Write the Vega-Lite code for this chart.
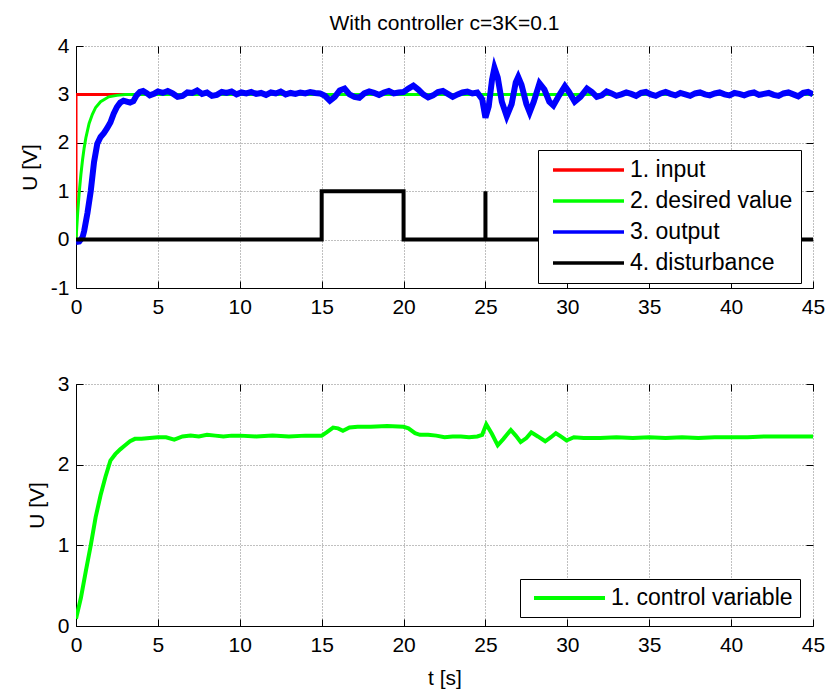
{
  "$schema": "https://vega.github.io/schema/vega-lite/v6.json",
  "padding": {"left": 19, "top": 13, "right": 5, "bottom": 2},
  "background": "white",
  "datasets": {
    "top": [
      {"s": "1. input", "t": 0, "v": 0},
      {"s": "1. input", "t": 0.001, "v": 3},
      {"s": "1. input", "t": 45, "v": 3},
      {"s": "2. desired value", "t": 0, "v": 0},
      {"s": "2. desired value", "t": 0.1, "v": 0.54},
      {"s": "2. desired value", "t": 0.2, "v": 0.99},
      {"s": "2. desired value", "t": 0.3, "v": 1.35},
      {"s": "2. desired value", "t": 0.4, "v": 1.65},
      {"s": "2. desired value", "t": 0.5, "v": 1.9},
      {"s": "2. desired value", "t": 0.6, "v": 2.1},
      {"s": "2. desired value", "t": 0.8, "v": 2.4},
      {"s": "2. desired value", "t": 1.0, "v": 2.59},
      {"s": "2. desired value", "t": 1.2, "v": 2.73},
      {"s": "2. desired value", "t": 1.5, "v": 2.85},
      {"s": "2. desired value", "t": 2.0, "v": 2.95},
      {"s": "2. desired value", "t": 2.5, "v": 2.98},
      {"s": "2. desired value", "t": 3.0, "v": 3.0},
      {"s": "2. desired value", "t": 45, "v": 3.0},
      {"s": "3. output", "t": 0, "v": -0.05},
      {"s": "3. output", "t": 0.2, "v": -0.04},
      {"s": "3. output", "t": 0.4, "v": 0.05},
      {"s": "3. output", "t": 0.5, "v": 0.18},
      {"s": "3. output", "t": 0.7, "v": 0.55},
      {"s": "3. output", "t": 0.9, "v": 1.0},
      {"s": "3. output", "t": 1.1, "v": 1.6},
      {"s": "3. output", "t": 1.3, "v": 1.98},
      {"s": "3. output", "t": 1.5, "v": 2.12},
      {"s": "3. output", "t": 1.7, "v": 2.2},
      {"s": "3. output", "t": 1.9, "v": 2.3},
      {"s": "3. output", "t": 2.1, "v": 2.42},
      {"s": "3. output", "t": 2.3, "v": 2.6},
      {"s": "3. output", "t": 2.5, "v": 2.74},
      {"s": "3. output", "t": 2.7, "v": 2.83},
      {"s": "3. output", "t": 2.9, "v": 2.87},
      {"s": "3. output", "t": 3.1, "v": 2.85},
      {"s": "3. output", "t": 3.3, "v": 2.83},
      {"s": "3. output", "t": 3.5, "v": 2.86},
      {"s": "3. output", "t": 3.7, "v": 2.98},
      {"s": "3. output", "t": 3.9, "v": 3.05},
      {"s": "3. output", "t": 4.1, "v": 3.07},
      {"s": "3. output", "t": 4.3, "v": 3.03},
      {"s": "3. output", "t": 4.5, "v": 2.98},
      {"s": "3. output", "t": 4.8, "v": 3.02},
      {"s": "3. output", "t": 5.0, "v": 3.06},
      {"s": "3. output", "t": 5.3, "v": 3.03},
      {"s": "3. output", "t": 5.6, "v": 3.07},
      {"s": "3. output", "t": 5.9, "v": 3.02},
      {"s": "3. output", "t": 6.2, "v": 2.95},
      {"s": "3. output", "t": 6.5, "v": 2.97},
      {"s": "3. output", "t": 6.8, "v": 3.04},
      {"s": "3. output", "t": 7.1, "v": 3.03},
      {"s": "3. output", "t": 7.4, "v": 3.08},
      {"s": "3. output", "t": 7.7, "v": 3.01},
      {"s": "3. output", "t": 8.0, "v": 3.04},
      {"s": "3. output", "t": 8.3, "v": 2.97},
      {"s": "3. output", "t": 8.6, "v": 2.99},
      {"s": "3. output", "t": 8.9, "v": 3.05},
      {"s": "3. output", "t": 9.2, "v": 3.03},
      {"s": "3. output", "t": 9.5, "v": 3.06},
      {"s": "3. output", "t": 9.8, "v": 3.0},
      {"s": "3. output", "t": 10.1, "v": 3.04},
      {"s": "3. output", "t": 10.4, "v": 3.02},
      {"s": "3. output", "t": 10.7, "v": 3.05},
      {"s": "3. output", "t": 11.0, "v": 3.01},
      {"s": "3. output", "t": 11.3, "v": 3.03},
      {"s": "3. output", "t": 11.6, "v": 2.99},
      {"s": "3. output", "t": 11.9, "v": 3.04},
      {"s": "3. output", "t": 12.2, "v": 3.02},
      {"s": "3. output", "t": 12.5, "v": 3.06},
      {"s": "3. output", "t": 12.8, "v": 3.0},
      {"s": "3. output", "t": 13.1, "v": 3.03},
      {"s": "3. output", "t": 13.4, "v": 3.01},
      {"s": "3. output", "t": 13.7, "v": 3.04},
      {"s": "3. output", "t": 14.0, "v": 3.02},
      {"s": "3. output", "t": 14.3, "v": 3.05},
      {"s": "3. output", "t": 14.6, "v": 3.03},
      {"s": "3. output", "t": 14.9, "v": 3.02},
      {"s": "3. output", "t": 15.2, "v": 2.97},
      {"s": "3. output", "t": 15.5, "v": 2.87},
      {"s": "3. output", "t": 15.8, "v": 2.95},
      {"s": "3. output", "t": 16.1, "v": 3.08},
      {"s": "3. output", "t": 16.4, "v": 3.12},
      {"s": "3. output", "t": 16.7, "v": 3.0},
      {"s": "3. output", "t": 17.0, "v": 2.95},
      {"s": "3. output", "t": 17.3, "v": 2.93},
      {"s": "3. output", "t": 17.6, "v": 3.02},
      {"s": "3. output", "t": 17.9, "v": 3.06},
      {"s": "3. output", "t": 18.2, "v": 3.03},
      {"s": "3. output", "t": 18.5, "v": 2.99},
      {"s": "3. output", "t": 18.8, "v": 3.04},
      {"s": "3. output", "t": 19.1, "v": 3.07},
      {"s": "3. output", "t": 19.4, "v": 3.02},
      {"s": "3. output", "t": 19.7, "v": 3.04},
      {"s": "3. output", "t": 20.0, "v": 3.05},
      {"s": "3. output", "t": 20.3, "v": 3.12},
      {"s": "3. output", "t": 20.6, "v": 3.18},
      {"s": "3. output", "t": 20.9, "v": 3.1},
      {"s": "3. output", "t": 21.2, "v": 3.0},
      {"s": "3. output", "t": 21.5, "v": 2.94},
      {"s": "3. output", "t": 21.8, "v": 2.98},
      {"s": "3. output", "t": 22.1, "v": 3.05},
      {"s": "3. output", "t": 22.4, "v": 3.07},
      {"s": "3. output", "t": 22.7, "v": 3.01},
      {"s": "3. output", "t": 23.0, "v": 2.95},
      {"s": "3. output", "t": 23.3, "v": 3.0},
      {"s": "3. output", "t": 23.6, "v": 3.04},
      {"s": "3. output", "t": 23.9, "v": 3.06},
      {"s": "3. output", "t": 24.2, "v": 3.02},
      {"s": "3. output", "t": 24.5, "v": 3.04},
      {"s": "3. output", "t": 24.8, "v": 2.9},
      {"s": "3. output", "t": 25.0, "v": 2.52},
      {"s": "3. output", "t": 25.2, "v": 2.75},
      {"s": "3. output", "t": 25.4, "v": 3.3},
      {"s": "3. output", "t": 25.55, "v": 3.55},
      {"s": "3. output", "t": 25.75, "v": 3.35},
      {"s": "3. output", "t": 26.0, "v": 2.85},
      {"s": "3. output", "t": 26.3, "v": 2.55},
      {"s": "3. output", "t": 26.6, "v": 2.8},
      {"s": "3. output", "t": 26.85, "v": 3.25},
      {"s": "3. output", "t": 27.0, "v": 3.36},
      {"s": "3. output", "t": 27.2, "v": 3.2},
      {"s": "3. output", "t": 27.5, "v": 2.8},
      {"s": "3. output", "t": 27.7, "v": 2.63},
      {"s": "3. output", "t": 27.95, "v": 2.85},
      {"s": "3. output", "t": 28.3, "v": 3.23},
      {"s": "3. output", "t": 28.6, "v": 3.1},
      {"s": "3. output", "t": 28.9, "v": 2.85},
      {"s": "3. output", "t": 29.15, "v": 2.77},
      {"s": "3. output", "t": 29.5, "v": 2.98},
      {"s": "3. output", "t": 29.85, "v": 3.17},
      {"s": "3. output", "t": 30.1, "v": 3.05},
      {"s": "3. output", "t": 30.45, "v": 2.85},
      {"s": "3. output", "t": 30.8, "v": 2.95},
      {"s": "3. output", "t": 31.2, "v": 3.12},
      {"s": "3. output", "t": 31.5, "v": 3.05},
      {"s": "3. output", "t": 31.8, "v": 2.95},
      {"s": "3. output", "t": 32.1, "v": 2.98},
      {"s": "3. output", "t": 32.4, "v": 3.06},
      {"s": "3. output", "t": 32.7, "v": 3.02},
      {"s": "3. output", "t": 33.0, "v": 2.97},
      {"s": "3. output", "t": 33.3, "v": 3.0},
      {"s": "3. output", "t": 33.6, "v": 3.04},
      {"s": "3. output", "t": 33.9, "v": 3.01},
      {"s": "3. output", "t": 34.2, "v": 2.97},
      {"s": "3. output", "t": 34.5, "v": 3.03},
      {"s": "3. output", "t": 34.8, "v": 3.05},
      {"s": "3. output", "t": 35.1, "v": 3.0},
      {"s": "3. output", "t": 35.4, "v": 2.97},
      {"s": "3. output", "t": 35.7, "v": 3.02},
      {"s": "3. output", "t": 36.0, "v": 3.05},
      {"s": "3. output", "t": 36.3, "v": 3.01},
      {"s": "3. output", "t": 36.6, "v": 2.98},
      {"s": "3. output", "t": 36.9, "v": 3.03},
      {"s": "3. output", "t": 37.2, "v": 3.0},
      {"s": "3. output", "t": 37.5, "v": 2.97},
      {"s": "3. output", "t": 37.8, "v": 3.02},
      {"s": "3. output", "t": 38.1, "v": 3.04},
      {"s": "3. output", "t": 38.4, "v": 3.0},
      {"s": "3. output", "t": 38.7, "v": 2.98},
      {"s": "3. output", "t": 39.0, "v": 3.02},
      {"s": "3. output", "t": 39.3, "v": 3.04},
      {"s": "3. output", "t": 39.6, "v": 3.0},
      {"s": "3. output", "t": 39.9, "v": 2.98},
      {"s": "3. output", "t": 40.2, "v": 3.03},
      {"s": "3. output", "t": 40.5, "v": 3.01},
      {"s": "3. output", "t": 40.8, "v": 2.98},
      {"s": "3. output", "t": 41.1, "v": 3.02},
      {"s": "3. output", "t": 41.4, "v": 3.04},
      {"s": "3. output", "t": 41.7, "v": 2.99},
      {"s": "3. output", "t": 42.0, "v": 3.01},
      {"s": "3. output", "t": 42.3, "v": 3.03},
      {"s": "3. output", "t": 42.6, "v": 2.99},
      {"s": "3. output", "t": 42.9, "v": 2.97},
      {"s": "3. output", "t": 43.2, "v": 3.02},
      {"s": "3. output", "t": 43.5, "v": 3.04},
      {"s": "3. output", "t": 43.8, "v": 3.0},
      {"s": "3. output", "t": 44.1, "v": 2.96},
      {"s": "3. output", "t": 44.4, "v": 3.03},
      {"s": "3. output", "t": 44.7, "v": 3.05},
      {"s": "3. output", "t": 45.0, "v": 3.0},
      {"s": "4. disturbance", "t": 0, "v": 0},
      {"s": "4. disturbance", "t": 15, "v": 0},
      {"s": "4. disturbance", "t": 15.001, "v": 1},
      {"s": "4. disturbance", "t": 20, "v": 1},
      {"s": "4. disturbance", "t": 20.001, "v": 0},
      {"s": "4. disturbance", "t": 24.999, "v": 0},
      {"s": "4. disturbance", "t": 25, "v": 1},
      {"s": "4. disturbance", "t": 25.001, "v": 0},
      {"s": "4. disturbance", "t": 45, "v": 0}
    ],
    "bottom": [
      {"s": "1. control variable", "t": 0, "v": 0.09},
      {"s": "1. control variable", "t": 0.3, "v": 0.35},
      {"s": "1. control variable", "t": 0.6, "v": 0.68},
      {"s": "1. control variable", "t": 0.9, "v": 1.0},
      {"s": "1. control variable", "t": 1.2, "v": 1.35},
      {"s": "1. control variable", "t": 1.5, "v": 1.62},
      {"s": "1. control variable", "t": 1.8, "v": 1.85},
      {"s": "1. control variable", "t": 2.1, "v": 2.05},
      {"s": "1. control variable", "t": 2.4, "v": 2.13},
      {"s": "1. control variable", "t": 2.7, "v": 2.19},
      {"s": "1. control variable", "t": 3.0, "v": 2.24},
      {"s": "1. control variable", "t": 3.3, "v": 2.29},
      {"s": "1. control variable", "t": 3.6, "v": 2.32},
      {"s": "1. control variable", "t": 4.0, "v": 2.32},
      {"s": "1. control variable", "t": 4.5, "v": 2.33},
      {"s": "1. control variable", "t": 5.0, "v": 2.34},
      {"s": "1. control variable", "t": 5.5, "v": 2.34},
      {"s": "1. control variable", "t": 6.0, "v": 2.31},
      {"s": "1. control variable", "t": 6.5, "v": 2.35},
      {"s": "1. control variable", "t": 7.0, "v": 2.36},
      {"s": "1. control variable", "t": 7.5, "v": 2.35},
      {"s": "1. control variable", "t": 8.0, "v": 2.37},
      {"s": "1. control variable", "t": 8.5, "v": 2.36},
      {"s": "1. control variable", "t": 9.0, "v": 2.35},
      {"s": "1. control variable", "t": 9.5, "v": 2.36},
      {"s": "1. control variable", "t": 10.0, "v": 2.36},
      {"s": "1. control variable", "t": 11.0, "v": 2.35},
      {"s": "1. control variable", "t": 12.0, "v": 2.36},
      {"s": "1. control variable", "t": 13.0, "v": 2.35},
      {"s": "1. control variable", "t": 14.0, "v": 2.36},
      {"s": "1. control variable", "t": 15.0, "v": 2.36},
      {"s": "1. control variable", "t": 15.3, "v": 2.4},
      {"s": "1. control variable", "t": 15.7, "v": 2.46},
      {"s": "1. control variable", "t": 16.0, "v": 2.45},
      {"s": "1. control variable", "t": 16.3, "v": 2.42},
      {"s": "1. control variable", "t": 16.7, "v": 2.46},
      {"s": "1. control variable", "t": 17.2, "v": 2.47},
      {"s": "1. control variable", "t": 18.0, "v": 2.47},
      {"s": "1. control variable", "t": 19.0, "v": 2.48},
      {"s": "1. control variable", "t": 20.0, "v": 2.47},
      {"s": "1. control variable", "t": 20.3, "v": 2.45},
      {"s": "1. control variable", "t": 20.7, "v": 2.39},
      {"s": "1. control variable", "t": 21.0, "v": 2.37},
      {"s": "1. control variable", "t": 21.5, "v": 2.37},
      {"s": "1. control variable", "t": 22.0, "v": 2.36},
      {"s": "1. control variable", "t": 22.5, "v": 2.34},
      {"s": "1. control variable", "t": 23.0, "v": 2.35},
      {"s": "1. control variable", "t": 23.5, "v": 2.35},
      {"s": "1. control variable", "t": 24.0, "v": 2.34},
      {"s": "1. control variable", "t": 24.5, "v": 2.35},
      {"s": "1. control variable", "t": 24.8, "v": 2.37},
      {"s": "1. control variable", "t": 25.05, "v": 2.5},
      {"s": "1. control variable", "t": 25.4, "v": 2.38},
      {"s": "1. control variable", "t": 25.75, "v": 2.24},
      {"s": "1. control variable", "t": 26.1, "v": 2.32},
      {"s": "1. control variable", "t": 26.55, "v": 2.43},
      {"s": "1. control variable", "t": 26.85, "v": 2.36},
      {"s": "1. control variable", "t": 27.15, "v": 2.28},
      {"s": "1. control variable", "t": 27.5, "v": 2.33},
      {"s": "1. control variable", "t": 27.8, "v": 2.4},
      {"s": "1. control variable", "t": 28.2, "v": 2.35},
      {"s": "1. control variable", "t": 28.65, "v": 2.29},
      {"s": "1. control variable", "t": 29.0, "v": 2.34},
      {"s": "1. control variable", "t": 29.3, "v": 2.39},
      {"s": "1. control variable", "t": 29.6, "v": 2.35},
      {"s": "1. control variable", "t": 29.95, "v": 2.3},
      {"s": "1. control variable", "t": 30.4, "v": 2.34},
      {"s": "1. control variable", "t": 31.0, "v": 2.33},
      {"s": "1. control variable", "t": 32.0, "v": 2.33},
      {"s": "1. control variable", "t": 33.0, "v": 2.34},
      {"s": "1. control variable", "t": 34.0, "v": 2.33},
      {"s": "1. control variable", "t": 35.0, "v": 2.34},
      {"s": "1. control variable", "t": 36.0, "v": 2.33},
      {"s": "1. control variable", "t": 37.0, "v": 2.34},
      {"s": "1. control variable", "t": 38.0, "v": 2.33},
      {"s": "1. control variable", "t": 39.0, "v": 2.34},
      {"s": "1. control variable", "t": 40.0, "v": 2.34},
      {"s": "1. control variable", "t": 41.0, "v": 2.34},
      {"s": "1. control variable", "t": 42.0, "v": 2.35},
      {"s": "1. control variable", "t": 43.0, "v": 2.35},
      {"s": "1. control variable", "t": 44.0, "v": 2.35},
      {"s": "1. control variable", "t": 45.0, "v": 2.35}
    ]
  },
  "vconcat": [
    {
      "width": 737,
      "height": 242,
      "data": {"name": "top"},
      "title": {"text": "With controller c=3K=0.1", "font": "Liberation Sans", "fontSize": 21, "fontWeight": "normal", "color": "black", "offset": 1},
      "layer": [
        {
          "transform": [{"filter": "datum.s == '1. input'"}],
          "mark": {"type": "line", "strokeWidth": 3, "clip": true},
          "encoding": {
            "x": {"field": "t", "type": "quantitative", "scale": {"domain": [0, 45], "nice": false, "zero": false},
                  "axis": {"title": null, "values": [0,5,10,15,20,25,30,35,40,45], "orient": "bottom"}},
            "y": {"field": "v", "type": "quantitative", "scale": {"domain": [-1, 4], "nice": false, "zero": false},
                  "axis": {"title": "U [V]", "values": [-1,0,1,2,3,4], "orient": "left", "labelExpr": "replace(datum.label, '\u2212', '-')"}},
            "color": {"field": "s", "type": "nominal",
              "scale": {"domain": ["1. input", "2. desired value", "3. output", "4. disturbance"], "range": ["#ff0000", "#00ff00", "#0000ff", "#000000"]},
              "legend": {"title": null, "orient": "none", "legendX": 462, "legendY": 104, "symbolType": "M-0.5,0H6.6", "symbolSize": 400, "symbolStrokeWidth": 3.5, "labelOffset": 60, "labelFontSize": 23, "labelFont": "Liberation Sans", "labelColor": "black", "strokeColor": "black", "fillColor": "white", "padding": 8, "rowPadding": 7, "labelLimit": 400, "cornerRadius": 0}}
          }
        },
        {
          "transform": [{"filter": "datum.s == '2. desired value'"}],
          "mark": {"type": "line", "strokeWidth": 3, "clip": true},
          "encoding": {
            "x": {"field": "t", "type": "quantitative", "axis": null},
            "y": {"field": "v", "type": "quantitative", "axis": null},
            "color": {"field": "s", "type": "nominal"}
          }
        },
        {
          "transform": [{"filter": "datum.s == '3. output'"}],
          "mark": {"type": "line", "strokeWidth": 6, "clip": true},
          "encoding": {
            "x": {"field": "t", "type": "quantitative", "axis": null},
            "y": {"field": "v", "type": "quantitative", "axis": null},
            "color": {"field": "s", "type": "nominal"}
          }
        },
        {
          "transform": [{"filter": "datum.s == '4. disturbance'"}],
          "mark": {"type": "line", "strokeWidth": 4, "clip": true},
          "encoding": {
            "x": {"field": "t", "type": "quantitative", "axis": {"orient": "top", "labels": false, "domain": false, "grid": false, "title": null, "values": [0,5,10,15,20,25,30,35,40,45]}},
            "y": {"field": "v", "type": "quantitative", "axis": {"orient": "right", "labels": false, "domain": false, "grid": false, "title": null, "values": [-1,0,1,2,3,4]}},
            "color": {"field": "s", "type": "nominal"}
          }
        }
      ],
      "resolve": {"axis": {"x": "independent", "y": "independent"}}
    },
    {
      "width": 737,
      "height": 242,
      "data": {"name": "bottom"},
      "layer": [
        {
          "mark": {"type": "line", "strokeWidth": 4, "clip": true},
          "encoding": {
            "x": {"field": "t", "type": "quantitative", "scale": {"domain": [0, 45], "nice": false, "zero": false},
                  "axis": {"title": "t [s]", "values": [0,5,10,15,20,25,30,35,40,45], "orient": "bottom"}},
            "y": {"field": "v", "type": "quantitative", "scale": {"domain": [0, 3], "nice": false, "zero": false},
                  "axis": {"title": "U [V]", "values": [0,1,2,3], "orient": "left"}},
            "color": {"field": "s", "type": "nominal",
              "scale": {"domain": ["1. control variable"], "range": ["#00ff00"]},
              "legend": {"title": null, "orient": "none", "legendX": 444, "legendY": 195, "symbolType": "M-0.5,0H6.6", "symbolSize": 400, "symbolStrokeWidth": 4, "labelOffset": 60, "labelFontSize": 23, "labelFont": "Liberation Sans", "labelColor": "black", "strokeColor": "black", "fillColor": "white", "padding": 7, "labelLimit": 400, "cornerRadius": 0}}
          }
        },
        {
          "mark": {"type": "line", "strokeWidth": 4, "opacity": 0},
          "encoding": {
            "x": {"field": "t", "type": "quantitative", "axis": {"orient": "top", "labels": false, "domain": false, "grid": false, "title": null, "values": [0,5,10,15,20,25,30,35,40,45]}},
            "y": {"field": "v", "type": "quantitative", "axis": {"orient": "right", "labels": false, "domain": false, "grid": false, "title": null, "values": [0,1,2,3]}}
          }
        }
      ],
      "resolve": {"axis": {"x": "independent", "y": "independent"}}
    }
  ],
  "spacing": 96,
  "bounds": "flush",
  "resolve": {"scale": {"color": "independent"}},
  "config": {
    "view": {"stroke": null},
    "font": "Liberation Sans",
    "axis": {
      "labelFont": "Liberation Sans", "labelFontSize": 21, "labelColor": "black",
      "titleFont": "Liberation Sans", "titleFontSize": 21, "titleFontWeight": "normal", "titleColor": "black",
      "domainColor": "black", "domainWidth": 1,
      "tickColor": "black", "tickSize": -7, "tickWidth": 1,
      "gridColor": "#808080", "gridDash": [1, 2], "gridOpacity": 1, "gridWidth": 1,
      "labelFlush": false, "labelOverlap": false
    },
    "axisY": {"titlePadding": 10, "labelPadding": 14},
    "axisX": {"titlePadding": 12, "labelPadding": 15}
  }
}
